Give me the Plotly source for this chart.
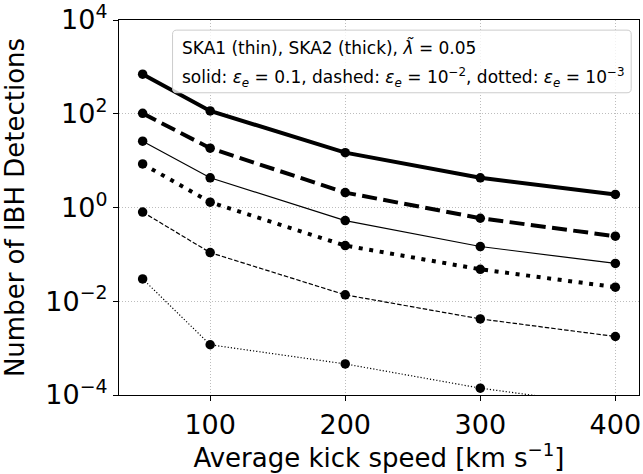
import plotly.graph_objects as go

# ---- data ----
kick_speed = [50, 100, 200, 300, 400]
ska2_solid = [700, 115, 14.8, 4.3, 1.9]
ska2_dashed = [102, 18.4, 2.08, 0.59, 0.244]
ska2_dotted = [8.5, 1.3, 0.154, 0.048, 0.020]
ska1_solid = [26, 4.3, 0.526, 0.147, 0.064]
ska1_dashed = [0.8, 0.109, 0.0137, 0.0042, 0.00177]
ska1_dotted = [0.030, 0.00118, 0.00046, 0.00014, 0.000057]

x_ticks = [100, 200, 300, 400]
y_tickvals = [1e-4, 1e-2, 1e0, 1e2, 1e4]
y_ticktext = ["10<sup>−4</sup>", "10<sup>−2</sup>", "10<sup>0</sup>", "10<sup>2</sup>", "10<sup>4</sup>"]

FONT = "DejaVu Sans"

series = [
    (ska2_solid, 4.0, "solid"),
    (ska2_dashed, 4.0, "15px,6.4px"),
    (ska2_dotted, 4.0, "4px,6.6px"),
    (ska1_solid, 1.2, "solid"),
    (ska1_dashed, 1.2, "4.5px,2px"),
    (ska1_dotted, 1.2, "1.2px,2px"),
]

fig = go.Figure()
for ys, w, dash in series:
    fig.add_trace(go.Scatter(
        x=kick_speed, y=ys, mode="lines+markers",
        line=dict(color="black", width=w, dash=dash),
        marker=dict(color="black", size=9.5, symbol="circle"),
        showlegend=False,
    ))

fig.update_layout(
    width=643, height=474,
    margin=dict(l=119, r=4, t=20, b=78.5, autoexpand=False),
    paper_bgcolor="white", plot_bgcolor="white",
    font=dict(family=FONT, color="black"),
    showlegend=False,
)

fig.update_xaxes(
    range=[32.5, 417.5], tickvals=x_ticks, automargin=False, ticklabeloverflow="allow",
    showline=True, linecolor="black", linewidth=1.2, mirror=True,
    ticks="outside", ticklen=5, tickwidth=1.2, tickcolor="black",
    showgrid=True, gridcolor="#bdbdbd", griddash="1px,2px", gridwidth=1,
    zeroline=False,
    tickfont=dict(size=27, family=FONT),
    title=dict(text="Average kick speed [km s<sup>−1</sup>]", font=dict(size=26, family=FONT), standoff=3),
)
fig.update_yaxes(
    type="log", range=[-4, 4], tickvals=y_tickvals, ticktext=y_ticktext,
    automargin=False, ticklabeloverflow="allow",
    showline=True, linecolor="black", linewidth=1.2, mirror=True,
    ticks="outside", ticklen=5, tickwidth=1.2, tickcolor="black",
    showgrid=True, gridcolor="#bdbdbd", griddash="1px,2px", gridwidth=1,
    zeroline=False,
    tickfont=dict(size=27, family=FONT),
    title=dict(text="Number of IBH Detections", font=dict(size=26, family=FONT), standoff=14),
)

# legend-like text box (rounded)
x0, x1, y0, y1 = 0.103, 0.985, 0.806, 0.973
rx, ry = 0.008, 0.011
path = (f"M {x0+rx},{y0} L {x1-rx},{y0} Q {x1},{y0} {x1},{y0+ry} "
        f"L {x1},{y1-ry} Q {x1},{y1} {x1-rx},{y1} L {x0+rx},{y1} "
        f"Q {x0},{y1} {x0},{y1-ry} L {x0},{y0+ry} Q {x0},{y0} {x0+rx},{y0} Z")
fig.add_shape(type="path", path=path, xref="paper", yref="paper",
              line=dict(color="#cccccc", width=1), fillcolor="rgba(255,255,255,0.8)")

fig.add_annotation(
    xref="paper", yref="paper", x=0.117, y=0.927, xanchor="left", yanchor="middle",
    text="SKA1 (thin), SKA2 (thick), <i>λ̃</i> = 0.05",
    showarrow=False, font=dict(size=17, family=FONT, color="black"),
)
fig.add_annotation(
    xref="paper", yref="paper", x=0.117, y=0.848, xanchor="left", yanchor="middle",
    text="solid: <i>ε<sub>e</sub></i> = 0.1, dashed: <i>ε<sub>e</sub></i> = 10<sup>−2</sup>, dotted: <i>ε<sub>e</sub></i> = 10<sup>−3</sup>",
    showarrow=False, font=dict(size=17, family=FONT, color="black"),
)

fig.write_html(
    "out.html",
    config={"displayModeBar": False},
    post_script="document.body.style.margin='0';document.body.style.overflow='hidden';",
)
